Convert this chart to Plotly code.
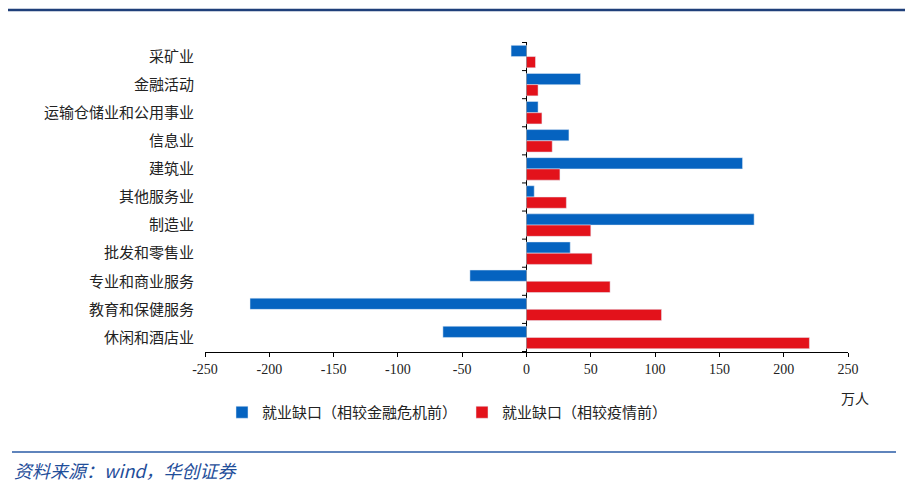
import plotly.graph_objects as go

categories = ['采矿业', '金融活动', '运输仓储业和公用事业', '信息业', '建筑业', '其他服务业',
              '制造业', '批发和零售业', '专业和商业服务', '教育和保健服务', '休闲和酒店业']
gap_vs_crisis = [-12, 42, 9, 33, 168, 6, 177, 34, -44, -215, -65]
gap_vs_covid = [7, 9, 12, 20, 26, 31, 50, 51, 65, 105, 220]
tick_values = [-250, -200, -150, -100, -50, 0, 50, 100, 150, 200, 250]
tick_labels = ['-250', '-200', '-150', '-100', '-50', '0', '50', '100', '150', '200', '250']

BLUE = '#0563C0'
RED = '#E3121B'
CJK = 'Noto Sans CJK SC'

# page has an 8px body margin; positions below are in screen pixels
OFF = 8
W, H = 914, 485
L, R, T, B = 205 - OFF, 848 - OFF, 42 - OFF, 352 - OFF


def px(x):
    return (x - OFF - L) / (R - L)


def py(y):
    return (B - (y - OFF)) / (B - T)


fig = go.Figure()
fig.add_trace(go.Bar(y=categories, x=gap_vs_crisis, orientation='h', marker_color=BLUE,
                     name='就业缺口（相较金融危机前）'))
fig.add_trace(go.Bar(y=categories, x=gap_vs_covid, orientation='h', marker_color=RED,
                     name='就业缺口（相较疫情前）'))

# short tick marks on the zero line between categories
shapes = []
for i in range(len(categories) + 1):
    shapes.append(dict(type='line', xref='x', yref='y', x0=-3.5, x1=0, y0=i - 0.5, y1=i - 0.5,
                       line=dict(color='black', width=1)))
# header and footer rules
shapes.append(dict(type='line', xref='paper', yref='paper', x0=px(7), x1=px(905), y0=py(10), y1=py(10),
                   line=dict(color='#1F3F7A', width=2.5)))
shapes.append(dict(type='line', xref='paper', yref='paper', x0=px(12), x1=px(896), y0=py(452), y1=py(452),
                   line=dict(color='#2A5BA6', width=1.5)))

fig.update_layout(
    width=W, height=H,
    margin=dict(l=L, r=W - R, t=T, b=H - B),
    plot_bgcolor='white', paper_bgcolor='white',
    barmode='group', bargap=0.2, bargroupgap=0,
    showlegend=True,
    legend=dict(orientation='h', x=px(222), y=py(396), xanchor='left', yanchor='top',
                font=dict(family=CJK, size=15, color='#222'), itemwidth=30, tracegroupgap=0),
    shapes=shapes,
    annotations=[
        dict(text='万人', xref='paper', yref='paper', x=px(855), y=py(398), showarrow=False,
             xanchor='center', yanchor='middle',
             font=dict(family=CJK, size=14, color='#222')),
        dict(text='<i>资料来源：wind，华创证券</i>', xref='paper', yref='paper', x=px(12), y=py(470),
             xanchor='left', yanchor='middle', showarrow=False,
             font=dict(family='Noto Sans CJK SC, Liberation Serif', size=18, color='#1F4E9A')),
    ],
)
fig.update_xaxes(range=[-250, 250], tickvals=tick_values, ticktext=tick_labels,
                 showline=True, linecolor='black', linewidth=1,
                 ticks='outside', ticklen=4, tickcolor='black', showgrid=False,
                 zeroline=True, zerolinecolor='black', zerolinewidth=1,
                 tickfont=dict(family='Liberation Serif', size=14, color='#222'))
fig.update_yaxes(autorange='reversed', showgrid=False, showline=False, ticks='',
                 tickfont=dict(family=CJK, size=15, color='#222'), ticklabelstandoff=10)

fig.write_html('out.html')
